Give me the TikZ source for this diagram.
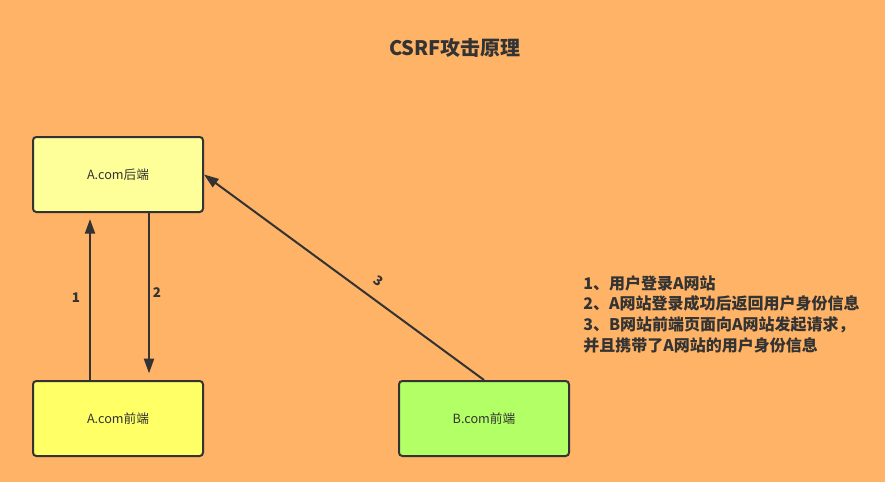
\documentclass[tikz,border=0pt]{standalone}
\usepackage{fontspec}
\setmainfont{Noto Sans CJK SC}
\usetikzlibrary{arrows.meta}
\definecolor{bg}{HTML}{FFB366}
\definecolor{ink}{HTML}{333333}
\definecolor{back}{HTML}{FFFF99}
\definecolor{fronta}{HTML}{FFFF66}
\definecolor{frontb}{HTML}{B3FF66}
\tikzset{
  box/.style={draw=ink, line width=1.5pt, rounded corners=2.5pt, minimum width=127.5pt,
    minimum height=56.25pt, inner sep=0pt, text=ink, font=\fontsize{9.5}{11}\selectfont},
  arr/.style={-{Triangle[length=11pt,width=7.5pt]}, draw=ink, line width=1.5pt},
  lbl/.style={text=ink, font=\bfseries\fontsize{10}{12}\selectfont}
}
\begin{document}
\begin{tikzpicture}[x=0.75pt, y=-0.75pt]
  \fill[bg] (0, 0) rectangle (885, 482);
  \useasboundingbox (0, 0) rectangle (885, 482);
  \node[text=ink, font=\bfseries\fontsize{15}{18}\selectfont] (title) at (455, 48) {CSRF攻击原理};
  \node[box, fill=back] (aback) at (118, 174.5) {A.com后端};
  \node[box, fill=fronta] (afront) at (118, 418.5) {A.com前端};
  \node[box, fill=frontb] (bfront) at (484, 418.5) {B.com前端};
  % 1: login, 2: reply, 3: forged request
  \draw[arr, shorten >=4.5pt] ([xshift=-21pt]afront.north) -- ([xshift=-21pt]aback.south);
  \draw[arr, shorten >=5pt] ([xshift=23.25pt]aback.south) -- ([xshift=23.25pt]afront.north);
  \draw[arr] (bfront.north) -- (aback.east);
  \node[lbl] (n1) at (76, 298) {1};
  \node[lbl] (n2) at (157, 293) {2};
  \node[lbl, rotate=-36] (n3) at (379, 281) {3};
  \node[anchor=north west, align=left, text=ink, inner sep=0pt,
    font=\bfseries\fontsize{12}{15.5}\selectfont] (notes) at (583, 275)
    {1、用户登录A网站\\2、A网站登录成功后返回用户身份信息\\3、B网站前端页面向A网站发起请求，\\并且携带了A网站的用户身份信息};
\end{tikzpicture}
\end{document}
